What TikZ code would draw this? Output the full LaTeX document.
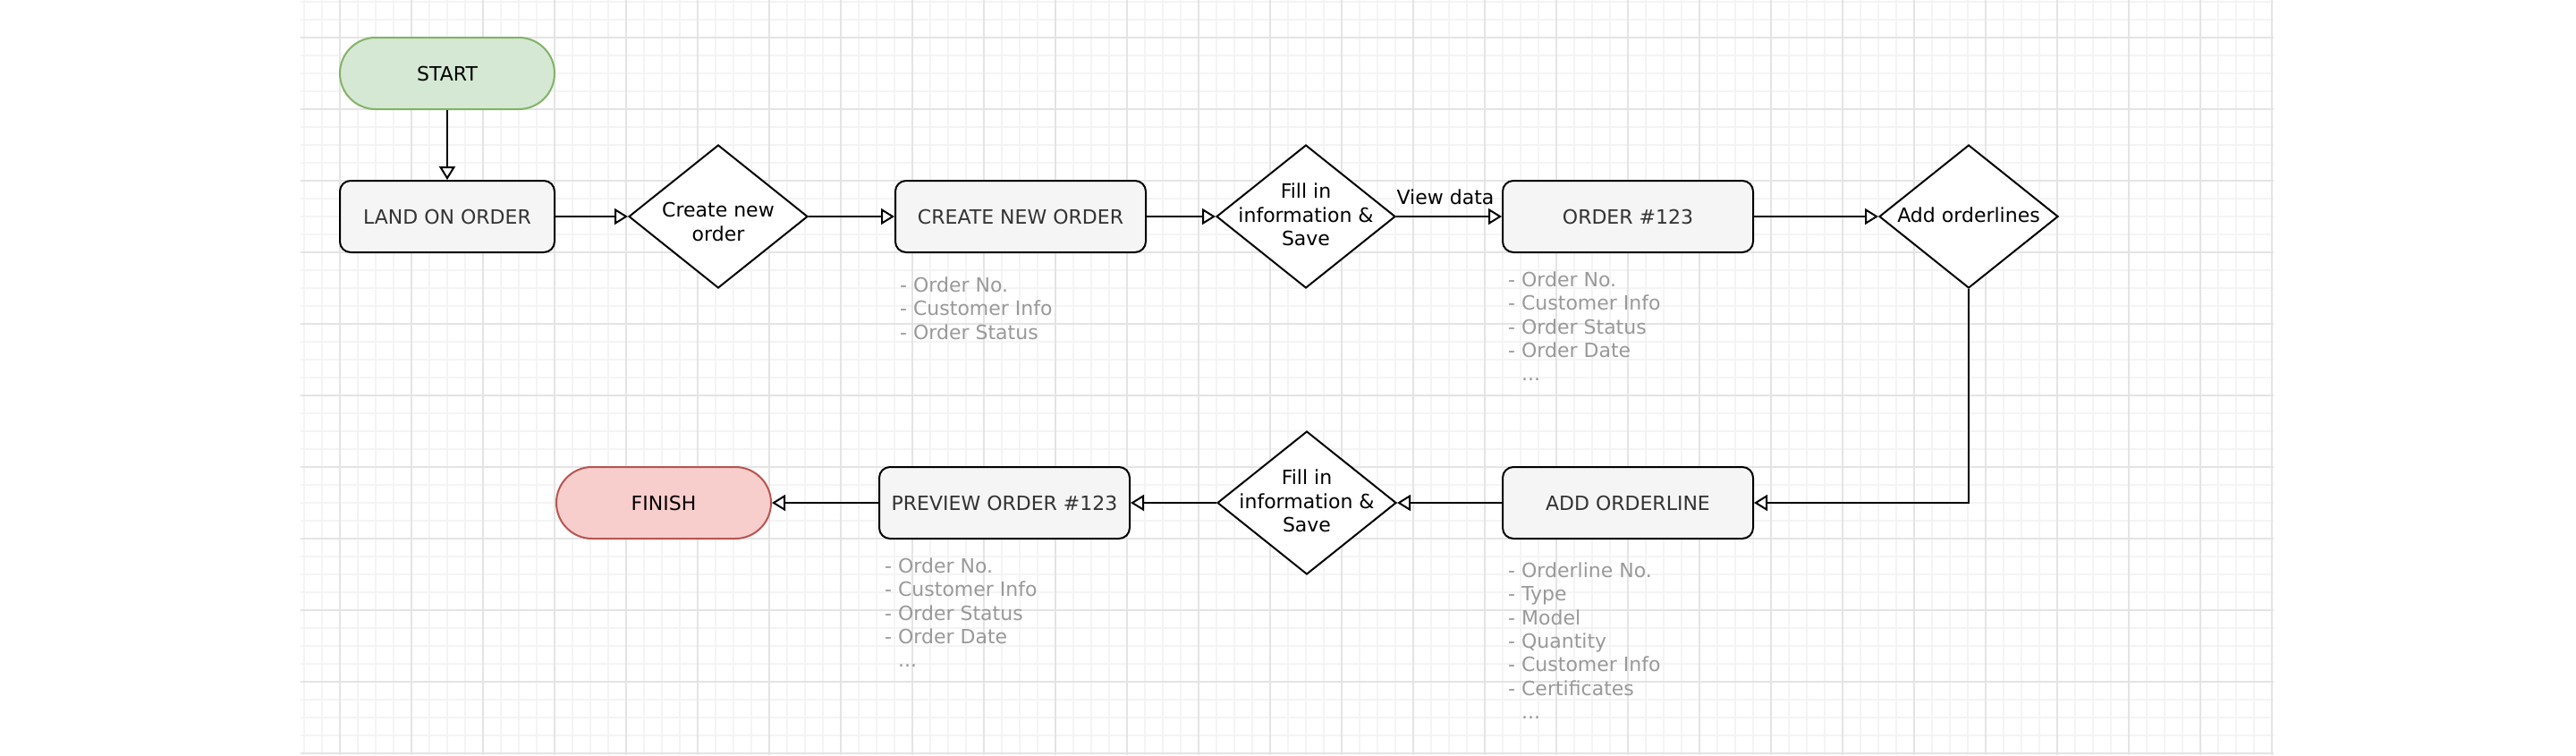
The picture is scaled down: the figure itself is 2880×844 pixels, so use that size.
\documentclass[tikz,border=0pt]{standalone}
\usepackage{fontspec}
\setmainfont{DejaVu Sans}
\usetikzlibrary{arrows.meta,shapes.geometric}
\definecolor{gridminor}{HTML}{F4F4F4}
\definecolor{gridmajor}{HTML}{E4E4E4}
\definecolor{startfill}{HTML}{D5E8D4}
\definecolor{startline}{HTML}{82B366}
\definecolor{endfill}{HTML}{F8CECC}
\definecolor{endline}{HTML}{B85450}
\definecolor{boxfill}{HTML}{F5F5F5}
\definecolor{boxtext}{HTML}{333333}
\definecolor{notetext}{HTML}{999999}
\begin{document}
\begin{tikzpicture}[x=1pt,y=-1pt,
  every node/.style={font=\fontsize{22}{26.4}\selectfont},
  terminal/.style={draw, line width=2pt, rounded corners=40pt, minimum width=240pt, minimum height=80pt, inner sep=0pt},
  procbox/.style={draw=black, fill=boxfill, line width=2pt, rounded corners=12pt, minimum height=80pt, inner sep=0pt, text=boxtext},
  decision/.style={draw, diamond, fill=white, line width=2pt, minimum width=200pt, minimum height=160pt, inner sep=0pt},
  dtext/.style={align=center, inner sep=0pt},
  note/.style={anchor=north west, align=left, inner sep=0pt, text=notetext},
  flow/.style={line width=2pt, -{Triangle[fill=white, length=15pt, width=18pt, line width=2pt]}},
  minorgrid/.style={gridminor, line width=1.3pt},
  majorgrid/.style={gridmajor, line width=2pt},
]
\useasboundingbox (0,0) rectangle (2880,844);
\fill[white] (0,0) rectangle (2880,844);
\begin{scope}
\clip (336,0) rectangle (2542,844);
\foreach \x in {340,360,...,2540} \draw[minorgrid] (\x,0) -- (\x,844);
\foreach \y in {2,22,...,842} \draw[minorgrid] (336,\y) -- (2542,\y);
\foreach \x in {380,460,...,2540} \draw[majorgrid] (\x,0) -- (\x,844);
\foreach \y in {42,122,...,842} \draw[majorgrid] (336,\y) -- (2542,\y);
\end{scope}

% nodes
\node[terminal, fill=startfill, draw=startline] (start) at (500,82) {START};
\node[procbox, minimum width=240pt] (land) at (500,242) {LAND ON ORDER};
\node[decision] (d1) at (803,242) {};
\node[dtext] (d1t) at ([yshift=-6pt]d1.center) {Create new\\order};
\node[procbox, minimum width=280pt] (create) at (1141,242) {CREATE NEW ORDER};
\node[decision] (d2) at (1460,242) {};
\node[dtext] (d2t) at ([yshift=2pt]d2.center) {Fill in\\information \&\\Save};
\node[procbox, minimum width=280pt] (order) at (1820,242) {ORDER \#123};
\node[decision] (d3) at (2201,242) {};
\node[dtext] (d3t) at ([yshift=2pt]d3.center) {Add orderlines};
\node[procbox, minimum width=280pt] (addol) at (1820,562) {ADD ORDERLINE};
\node[decision] (d4) at (1461,562) {};
\node[dtext] (d4t) at ([yshift=2pt]d4.center) {Fill in\\information \&\\Save};
\node[procbox, minimum width=280pt] (preview) at (1123,562) {PREVIEW ORDER \#123};
\node[terminal, fill=endfill, draw=endline] (finish) at (742,562) {FINISH};

% notes
\node[note] (n1) at (1006,309.3) {- Order No.\\- Customer Info\\- Order Status};
\node[note] (n2) at (1686,303.3) {- Order No.\\- Customer Info\\- Order Status\\- Order Date\\\hphantom{- }...};
\node[note] (n3) at (989,623.3) {- Order No.\\- Customer Info\\- Order Status\\- Order Date\\\hphantom{- }...};
\node[note] (n4) at (1686,628.3) {- Orderline No.\\- Type\\- Model\\- Quantity\\- Customer Info\\- Certificates\\\hphantom{- }...};

% connectors
\draw[flow] (start.south) -- (land.north);
\draw[flow] (land.east) -- (d1.west);
\draw[flow] (d1.east) -- (create.west);
\draw[flow] (create.east) -- (d2.west);
\draw[flow] (d2.east) -- node[above=12pt, inner sep=0pt, xshift=-4pt] (vd) {View data} (order.west);
\draw[flow] (order.east) -- (d3.west);
\draw[flow] (d3.south) |- (addol.east);
\draw[flow] (addol.west) -- (d4.east);
\draw[flow] (d4.west) -- (preview.east);
\draw[flow] (preview.west) -- (finish.east);
\end{tikzpicture}
\end{document}
